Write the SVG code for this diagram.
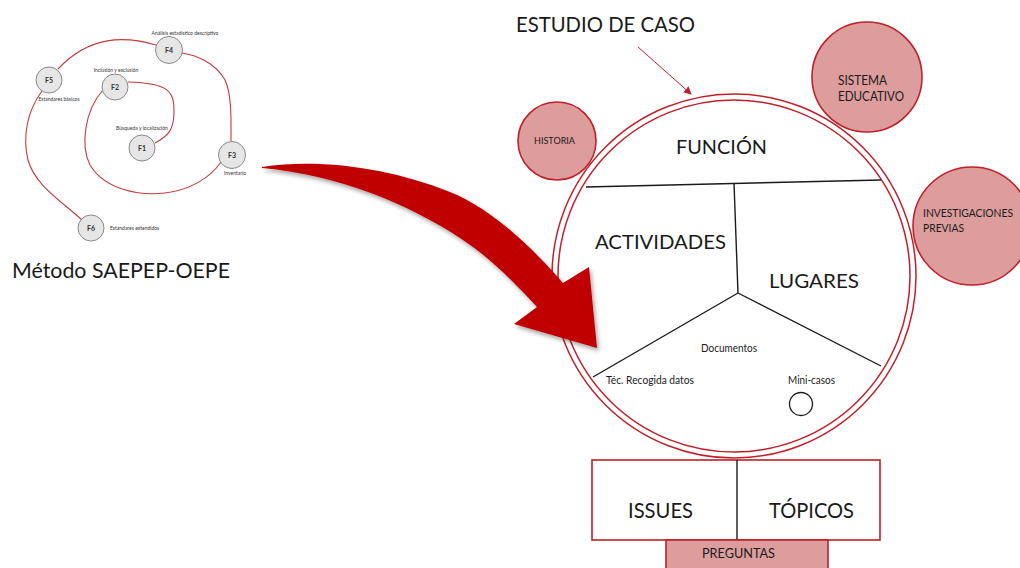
<svg xmlns="http://www.w3.org/2000/svg" width="1020" height="568" viewBox="0 0 1020 568">
<defs>
<style>
.t{font-family:Lato,"Open Sans","Liberation Sans",sans-serif;fill:#1a1a1a}
.sn{fill:#e6e6e6;stroke:#8a8a8a;stroke-width:1}
.sl{fill:none;stroke:#c23b3f;stroke-width:1.1}
.pk{fill:#dd9d9d;stroke:#c0202a;stroke-width:1.6}
.ring{fill:none;stroke:#c0202a;stroke-width:1.5}
.bl{stroke:#1a1a1a;stroke-width:1.4;fill:none}
.st{font-size:5px;fill:#333}
.fn{font-size:7px;font-weight:bold;fill:#333}
</style>
<marker id="ah" markerWidth="8" markerHeight="8" refX="7" refY="4" orient="auto" markerUnits="userSpaceOnUse">
<path d="M0,0 L8,4 L0,8 Z" fill="#c0202a"/>
</marker>
<filter id="sh" x="-10%" y="-10%" width="130%" height="130%">
<feDropShadow dx="2" dy="3" stdDeviation="2" flood-color="#000" flood-opacity="0.35"/>
</filter>
</defs>
<rect width="1020" height="568" fill="#fff"/>

<g id="connectors">
<path class="sl" d="M155,143 C168,136 174,130 174,112 C174,92 170,83 128,82"/>
<path class="sl" d="M103,90 C85,110 80,145 90,165 C105,190 140,196 165,193 C190,190 210,178 221,162"/>
<path class="sl" d="M231,141 C231,120 232,95 225,80 C215,62 195,55 182,53"/>
<path class="sl" d="M156,45 C125,36 90,35 58,69"/>
<path class="sl" d="M42,91 C28,110 22,135 28,160 C35,185 60,200 82,220"/>
<line x1="638" y1="47" x2="691" y2="94" stroke="#c0202a" stroke-width="1" marker-end="url(#ah)"/>
</g>

<g id="spiral-nodes">
<g id="F1"><circle class="sn" cx="142" cy="148" r="13"/><text class="t fn" x="142" y="151" text-anchor="middle">F1</text><text class="t st" x="142" y="130" text-anchor="middle">Búsqueda y localización</text></g>
<g id="F2"><circle class="sn" cx="115" cy="87" r="13"/><text class="t fn" x="115" y="90" text-anchor="middle">F2</text><text class="t st" x="116" y="72" text-anchor="middle">Inclusión y exclusión</text></g>
<g id="F3"><circle class="sn" cx="232" cy="155" r="13.5"/><text class="t fn" x="232" y="158" text-anchor="middle">F3</text><text class="t st" x="235" y="175" text-anchor="middle">Inventario</text></g>
<g id="F4"><circle class="sn" cx="169" cy="50" r="13.5"/><text class="t fn" x="169" y="53" text-anchor="middle">F4</text><text class="t st" x="185" y="35" text-anchor="middle">Análisis estadístico descriptivo</text></g>
<g id="F5"><circle class="sn" cx="49" cy="80" r="13"/><text class="t fn" x="49" y="83" text-anchor="middle">F5</text><text class="t st" x="59" y="101" text-anchor="middle">Estándares básicos</text></g>
<g id="F6"><circle class="sn" cx="91" cy="228" r="13"/><text class="t fn" x="91" y="231" text-anchor="middle">F6</text><text class="t st" x="110" y="230">Estándares extendidos</text></g>
</g>

<g id="metodo"><text class="t" x="12" y="278" font-size="22" textLength="218" lengthAdjust="spacingAndGlyphs">Método SAEPEP-OEPE</text></g>

<g id="estudio-label"><text class="t" x="516" y="32" font-size="21" textLength="179" lengthAdjust="spacingAndGlyphs">ESTUDIO DE CASO</text></g>

<g id="historia"><circle class="pk" cx="557" cy="141" r="39"/><text class="t" x="554.5" y="143.5" font-size="8.5" text-anchor="middle" textLength="41" lengthAdjust="spacingAndGlyphs">HISTORIA</text></g>
<g id="sistema"><circle class="pk" cx="867" cy="77" r="55"/><text class="t" x="838" y="85" font-size="12.5" textLength="49" lengthAdjust="spacingAndGlyphs">SISTEMA</text><text class="t" x="838" y="101" font-size="12.5" textLength="66" lengthAdjust="spacingAndGlyphs">EDUCATIVO</text></g>
<g id="investigaciones"><circle class="pk" cx="972" cy="226" r="59"/><text class="t" x="923" y="217" font-size="10.5" textLength="90" lengthAdjust="spacingAndGlyphs">INVESTIGACIONES</text><text class="t" x="923" y="232" font-size="10.5" textLength="41" lengthAdjust="spacingAndGlyphs">PREVIAS</text></g>

<g id="estudio-de-caso">
<circle class="ring" cx="734" cy="276" r="182"/>
<circle class="ring" cx="734" cy="276" r="176"/>
<line class="bl" x1="586" y1="187" x2="881" y2="180"/>
<line class="bl" x1="734" y1="183" x2="738" y2="293"/>
<line class="bl" x1="738" y1="293" x2="593" y2="377"/>
<line class="bl" x1="738" y1="293" x2="881" y2="366"/>
<text class="t" x="676" y="154" font-size="20" textLength="91" lengthAdjust="spacingAndGlyphs">FUNCIÓN</text>
<text class="t" x="595" y="249" font-size="20" textLength="131" lengthAdjust="spacingAndGlyphs">ACTIVIDADES</text>
<text class="t" x="769" y="288" font-size="20" textLength="90" lengthAdjust="spacingAndGlyphs">LUGARES</text>
<text class="t" x="701" y="352" font-size="10.5" textLength="56" lengthAdjust="spacingAndGlyphs">Documentos</text>
<text class="t" x="606" y="384" font-size="10.5" textLength="88" lengthAdjust="spacingAndGlyphs">Téc. Recogida datos</text>
<text class="t" x="788" y="384" font-size="10.5" textLength="47" lengthAdjust="spacingAndGlyphs">Mini-casos</text>
<circle cx="801" cy="404" r="11.5" fill="none" stroke="#1a1a1a" stroke-width="1.3"/>
</g>

<g id="issues-topicos">
<rect x="592" y="460" width="288" height="80" fill="#fff" stroke="#c0202a" stroke-width="1.6"/>
<line class="bl" x1="737" y1="460" x2="737" y2="540"/>
<text class="t" x="628" y="518" font-size="22" textLength="65" lengthAdjust="spacingAndGlyphs">ISSUES</text>
<text class="t" x="769" y="518" font-size="22" textLength="85" lengthAdjust="spacingAndGlyphs">TÓPICOS</text>
</g>

<g id="preguntas">
<rect x="666" y="540" width="162" height="34" fill="#dd9d9d" stroke="#c0202a" stroke-width="1.6"/>
<text class="t" x="702" y="558" font-size="12.5" textLength="73" lengthAdjust="spacingAndGlyphs">PREGUNTAS</text>
</g>

<g id="big-arrow">
<path filter="url(#sh)" fill="#c00000" d="M262,167 C320,158 390,168 450,192 C490,208 530,245 563,283 L589,267 L597,348 L514,324 L537,307 C510,278 490,258 460,238 C410,205 340,175 262,168 Z"/>
</g>
</svg>
